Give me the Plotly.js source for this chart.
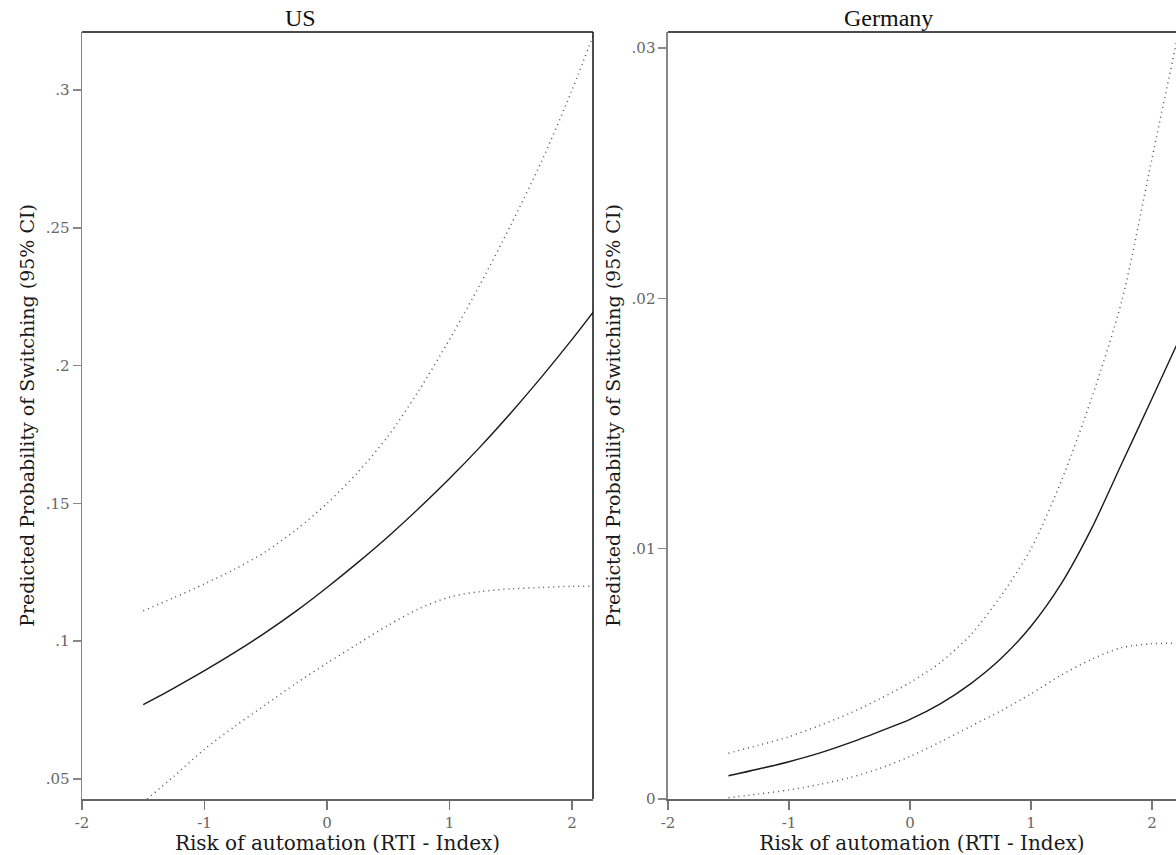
<!DOCTYPE html>
<html>
<head>
<meta charset="utf-8">
<script src="https://cdn.plot.ly/plotly-3.0.1.min.js"></script>
<style>html,body{margin:0;padding:0;background:#fff;}#chart{width:1176px;height:855px;}</style>
</head>
<body>
<div id="chart"></div>
<script>
// RTI index grid
const rti = [-1.5, -1.25, -1, -0.75, -0.5, -0.25, 0, 0.25, 0.5, 0.75, 1, 1.25, 1.5, 1.75, 2, 2.2];

// US predicted probabilities
const usFit   = [0.0770, 0.0830, 0.0893, 0.0960, 0.1032, 0.1110, 0.1195, 0.1285, 0.1380, 0.1482, 0.1590, 0.1705, 0.1828, 0.1958, 0.2095, 0.2210];
const usUpper = [0.111, 0.1158, 0.1208, 0.1262, 0.1325, 0.1405, 0.1500, 0.1612, 0.1745, 0.1910, 0.2095, 0.2295, 0.2510, 0.2740, 0.3000, 0.3230];
const usLower = [0.0415, 0.0510, 0.0608, 0.0692, 0.0770, 0.0848, 0.0920, 0.0990, 0.1058, 0.1118, 0.1160, 0.1180, 0.1190, 0.1195, 0.1199, 0.1200];

// Germany predicted probabilities
const deFit   = [0.00093, 0.00120, 0.00149, 0.00183, 0.00224, 0.00270, 0.00318, 0.00380, 0.00460, 0.00560, 0.00690, 0.00860, 0.01080, 0.01340, 0.01600, 0.01810];
const deUpper = [0.00183, 0.00215, 0.00249, 0.00293, 0.00342, 0.00400, 0.00465, 0.00545, 0.00655, 0.00810, 0.01000, 0.01270, 0.01600, 0.01990, 0.02560, 0.03020];
const deLower = [0.00005, 0.00020, 0.00036, 0.00058, 0.00085, 0.00122, 0.00170, 0.00228, 0.00290, 0.00352, 0.00420, 0.00495, 0.00558, 0.00605, 0.00620, 0.00622];

const panelTitles = ["US", "Germany"];
const xTickVals = [-2, -1, 0, 1, 2];
const xTickText = ["-2", "-1", "0", "1", "2"];
const usTickVals = [0.05, 0.1, 0.15, 0.2, 0.25, 0.3];
const usTickText = [".05", ".1", ".15", ".2", ".25", ".3"];
const deTickVals = [0, 0.01, 0.02, 0.03];
const deTickText = ["0", ".01", ".02", ".03"];
const xTitle = "Risk of automation (RTI - Index)";
const yTitle = "Predicted Probability of Switching (95% CI)";

const fitLine = {color: '#1a1a1a', width: 1.4, shape: 'spline', smoothing: 0.8};
const ciLine = {color: '#555555', width: 1.5, dash: '1px,4px', shape: 'spline', smoothing: 0.8};

const traces = [
  {x: rti, y: usUpper, mode: 'lines', line: ciLine, xaxis: 'x', yaxis: 'y', hoverinfo: 'skip'},
  {x: rti, y: usLower, mode: 'lines', line: ciLine, xaxis: 'x', yaxis: 'y', hoverinfo: 'skip'},
  {x: rti, y: usFit, mode: 'lines', line: fitLine, xaxis: 'x', yaxis: 'y'},
  {x: rti, y: deUpper, mode: 'lines', line: ciLine, xaxis: 'x2', yaxis: 'y2', hoverinfo: 'skip'},
  {x: rti, y: deLower, mode: 'lines', line: ciLine, xaxis: 'x2', yaxis: 'y2', hoverinfo: 'skip'},
  {x: rti, y: deFit, mode: 'lines', line: fitLine, xaxis: 'x2', yaxis: 'y2'}
];

const tickFont = {family: 'DejaVu Serif, serif', size: 15, color: '#666'};
const xTitleFont = {family: 'DejaVu Serif, serif', size: 20, color: '#1a1a1a'};
const yTitleFont = {family: 'DejaVu Serif, serif', size: 19, color: '#1a1a1a'};

function xAxis(domain, range, anchor) {
  return {
    domain: domain, range: range, anchor: anchor,
    tickvals: xTickVals, ticktext: xTickText,
    ticks: 'outside', ticklen: 9, tickwidth: 1.5, tickcolor: '#777',
    showline: true, linecolor: '#666', linewidth: 2,
    showgrid: false, zeroline: false,
    tickfont: tickFont,
    title: {text: xTitle, font: xTitleFont, standoff: 0}
  };
}
function yAxis(range, vals, text, anchor) {
  return {
    range: range, anchor: anchor,
    tickvals: vals, ticktext: text,
    ticks: 'outside', ticklen: 8, tickwidth: 1.5, tickcolor: '#888',
    showline: true, linecolor: '#888', linewidth: 1.5,
    showgrid: false, zeroline: false,
    tickfont: tickFont,
    title: {text: yTitle, font: yTitleFont, standoff: 6}
  };
}

const layout = {
  width: 1176, height: 855,
  margin: {l: 82, r: 0, t: 32, b: 56},
  paper_bgcolor: '#fff', plot_bgcolor: '#fff',
  showlegend: false,
  xaxis: xAxis([0, 0.4671], [-2, 2.171], 'y'),
  yaxis: yAxis([0.04274, 0.32104], usTickVals, usTickText, 'x'),
  xaxis2: xAxis([0.5356, 1], [-2, 2.198], 'y2'),
  yaxis2: yAxis([0, 0.03064], deTickVals, deTickText, 'x2'),
  shapes: [
    {type: 'line', xref: 'x domain', yref: 'y domain', x0: 0, x1: 1, y0: 1, y1: 1, line: {color: '#111', width: 1.5}},
    {type: 'line', xref: 'x domain', yref: 'y domain', x0: 1, x1: 1, y0: 0, y1: 1, line: {color: '#111', width: 1.5}},
    {type: 'line', xref: 'x2 domain', yref: 'y2 domain', x0: 0, x1: 1, y0: 1, y1: 1, line: {color: '#111', width: 1.5}}
  ],
  annotations: [
    {text: panelTitles[0], xref: 'paper', yref: 'paper', x: (300 - 82) / 1094, y: 1, yshift: 14, showarrow: false,
     xanchor: 'center', yanchor: 'middle', font: {family: 'Liberation Serif, serif', size: 24, color: '#111'}},
    {text: panelTitles[1], xref: 'paper', yref: 'paper', x: (888 - 82) / 1094, y: 1, yshift: 14, showarrow: false,
     xanchor: 'center', yanchor: 'middle', font: {family: 'Liberation Serif, serif', size: 24, color: '#111'}}
  ]
};

Plotly.newPlot('chart', traces, layout, {displayModeBar: false, staticPlot: true});
</script>
</body>
</html>
